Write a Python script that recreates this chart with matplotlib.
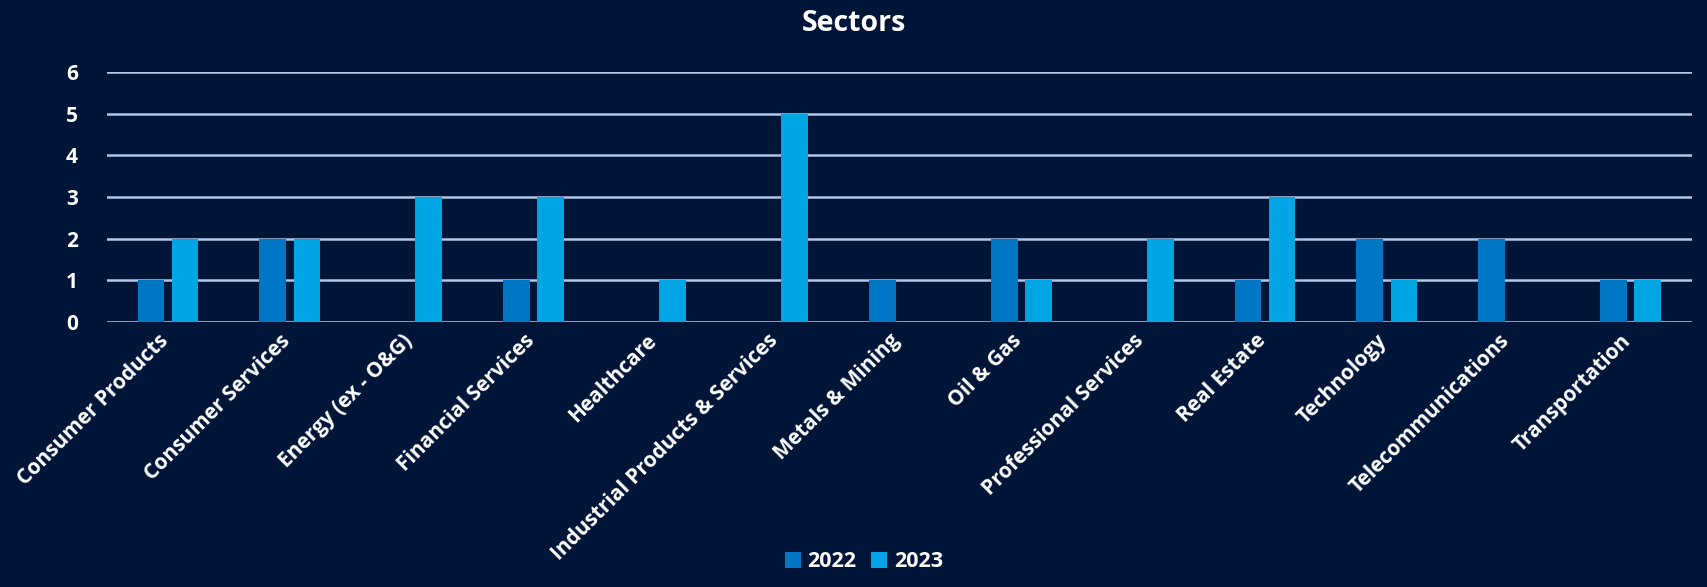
import matplotlib.pyplot as plt
import matplotlib.transforms as mtransforms
import numpy as np

plt.rcParams['font.family'] = ['Open Sans', 'DejaVu Sans']
plt.rcParams['font.weight'] = 'bold'

sectors = ['Consumer Products', 'Consumer Services', 'Energy (ex - O&G)',
           'Financial Services', 'Healthcare', 'Industrial Products & Services',
           'Metals & Mining', 'Oil & Gas', 'Professional Services', 'Real Estate',
           'Technology', 'Telecommunications', 'Transportation']
y2022 = [1, 2, 0, 1, 0, 0, 1, 2, 0, 1, 2, 2, 1]
y2023 = [2, 2, 3, 3, 1, 5, 0, 1, 2, 3, 1, 0, 1]

bg = '#001537'
c22 = '#0077C4'
c23 = '#00A6E3'

fig = plt.figure(figsize=(17.07, 5.87), dpi=100, facecolor=bg)
ax = fig.add_axes([0.0627, 0.4515, 0.9283, 0.4255])
ax.set_facecolor(bg)

x = np.arange(len(sectors))
w = 0.22
ax.bar(x - 0.14, y2022, w, color=c22, label='2022', zorder=3)
ax.bar(x + 0.14, y2023, w, color=c23, label='2023', zorder=3)

ax.set_xlim(-0.5, len(sectors) - 0.5)
ax.set_ylim(0, 6)
ax.set_yticks(range(7))
ax.grid(axis='y', color='#B4C7E7', lw=1.8, zorder=0)
for s in ax.spines.values():
    s.set_visible(False)
ax.tick_params(length=0, colors='white', labelsize=15)
ax.tick_params(axis='y', pad=21)
ax.tick_params(axis='x', pad=6)
ax.set_xticks(x)
ax.set_xticklabels(sectors, rotation=45, ha='right', rotation_mode='anchor',
                   fontsize=15, fontweight='bold', color='white')
shift = mtransforms.ScaledTranslation(-10 / 100, 0, fig.dpi_scale_trans)
for t in ax.get_xticklabels():
    t.set_transform(t.get_transform() + shift)
for t in ax.get_yticklabels():
    t.set_fontweight('bold')

fig.suptitle('Sectors', color='white', fontsize=20.5, fontweight='bold',
             x=0.5, y=0.985)

leg = fig.legend(loc='lower center', bbox_to_anchor=(0.506, -0.008), ncol=2,
                 frameon=False, fontsize=15.5, handlelength=0.75, handleheight=0.75,
                 handletextpad=0.3, columnspacing=0.7)
for t in leg.get_texts():
    t.set_color('white')
    t.set_fontweight('bold')

fig.savefig('out.png', facecolor=bg)
